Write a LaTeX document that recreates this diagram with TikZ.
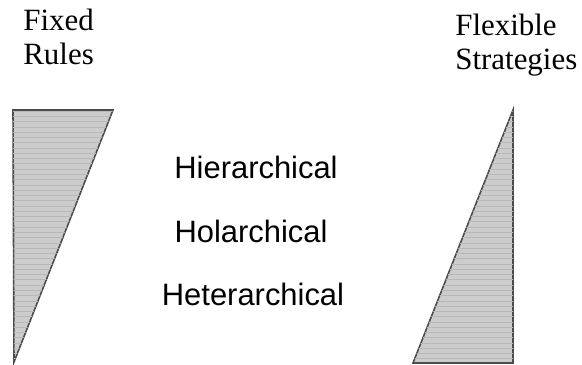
\documentclass[tikz,border=0pt]{standalone}
\usepackage{fontspec}
\setmainfont{Liberation Serif}
\setsansfont{Liberation Sans}
\usetikzlibrary{positioning,patterns}

\begin{document}
\begin{tikzpicture}[x=0.02cm, y=-0.02cm,
    wedge/.style={draw=black!70, line width=0.9pt, fill=black!20},
    hatch/.style={pattern=horizontal lines, pattern color=black!28},
    head/.style={font=\fontsize{17.6pt}{19.4pt}\selectfont, align=left, anchor=north west, inner sep=0pt},
    kind/.style={font=\sffamily\fontsize{17.6pt}{19pt}\selectfont, inner sep=0pt, anchor=base}]
    \useasboundingbox (0,0) rectangle (582,365);
    \coordinate (l1) at (13,110);
    \coordinate (l2) at (113,110);
    \coordinate (l3) at (14,362);
    \coordinate (r1) at (513,110);
    \coordinate (r2) at (513,363);
    \coordinate (r3) at (413,363);
    \filldraw[wedge] (l1) -- (l2) -- (l3) -- cycle;
    \fill[hatch] (l1) -- (l2) -- (l3) -- cycle;
    \filldraw[wedge] (r1) -- (r2) -- (r3) -- cycle;
    \fill[hatch] (r1) -- (r2) -- (r3) -- cycle;
    \node[head] (fixed) at (23,9) {Fixed\\Rules};
    \node[head] (flex) at (455,14) {Flexible\\Strategies};
    \node[kind] (hier) at (256,178) {Hierarchical};
    \node[kind] (hol) at (251,242) {Holarchical};
    \node[kind] (het) at (253,305) {Heterarchical};
\end{tikzpicture}
\end{document}
